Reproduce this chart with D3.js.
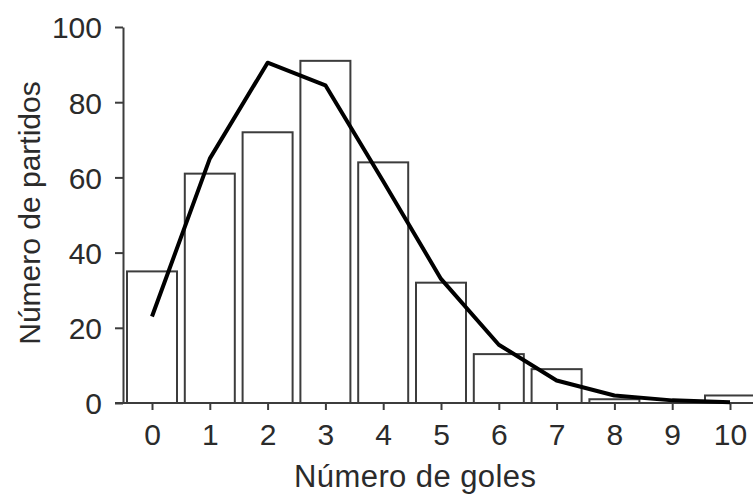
<!DOCTYPE html>
<html>
<head>
<meta charset="utf-8">
<script src="https://cdn.jsdelivr.net/npm/d3@7"></script>
<style>
  html, body { margin: 0; padding: 0; background: #fff; }
  svg { display: block; }
  text { font-family: "Liberation Sans", Arial, Helvetica, sans-serif; fill: #2b2b2b; }
</style>
</head>
<body>
<svg id="chart" width="753" height="495"></svg>
<script>
// Goals per match: observed counts (bars) and fitted distribution (line)
const goals = [0, 1, 2, 3, 4, 5, 6, 7, 8, 9, 10];
const observed = [35, 61, 72, 91, 64, 32, 13, 9, 1, 0, 2];
const expected = [23, 65, 90.5, 84.5, 59, 33, 15.5, 6, 2, 0.7, 0.2];
const yTicks = [0, 20, 40, 60, 80, 100];
const xTitle = "Número de goles";
const yTitle = "Número de partidos";

const svg = d3.select("#chart");

const x = d3.scaleLinear().domain([0, 10]).range([152, 730]);
const y = d3.scaleLinear().domain([0, 100]).range([403, 27]);
const barW = 50;
const axisColor = "#3c3c3c";

// Bars
svg.append("g")
  .selectAll("rect")
  .data(goals)
  .join("rect")
  .attr("x", (d) => x(d) - barW / 2)
  .attr("y", (d, i) => y(observed[i]))
  .attr("width", barW)
  .attr("height", (d, i) => y(0) - y(observed[i]))
  .attr("fill", "#fff")
  .attr("stroke", axisColor)
  .attr("stroke-width", 2);

// Y axis
const yAxis = svg.append("g")
  .attr("transform", `translate(123,0)`)
  .call(d3.axisLeft(y).tickValues(yTicks).tickSize(8).tickSizeOuter(0).tickPadding(13));
yAxis.select(".domain").attr("stroke", axisColor).attr("stroke-width", 2);
yAxis.selectAll(".tick line").attr("stroke", axisColor).attr("stroke-width", 2);
yAxis.selectAll(".tick text")
  .attr("font-size", 30)
  .attr("font-family", null)
  .attr("fill", null)
  .attr("dy", "0.36em");

// X axis
const xAxis = svg.append("g")
  .attr("transform", `translate(0,403)`)
  .call(d3.axisBottom(x).tickValues(goals).tickFormat(d3.format("d")).tickSize(7).tickSizeOuter(0).tickPadding(14));
xAxis.select(".domain").remove();
xAxis.append("line")
  .attr("x1", 115).attr("x2", 753)
  .attr("stroke", axisColor).attr("stroke-width", 2);
xAxis.selectAll(".tick line").attr("stroke", axisColor).attr("stroke-width", 2);
xAxis.selectAll(".tick text")
  .attr("font-size", 30)
  .attr("font-family", null)
  .attr("fill", null);

// Fitted line
const line = d3.line()
  .x((d, i) => x(goals[i]))
  .y((d) => y(d));
svg.append("path")
  .datum(expected)
  .attr("d", line)
  .attr("fill", "none")
  .attr("stroke", "#000")
  .attr("stroke-width", 4)
  .attr("stroke-linejoin", "round");

// Axis titles
svg.append("text")
  .attr("x", 415)
  .attr("y", 487)
  .attr("text-anchor", "middle")
  .attr("font-size", 31)
  .attr("textLength", 242)
  .attr("lengthAdjust", "spacing")
  .text(xTitle);

svg.append("text")
  .attr("transform", "translate(40,213) rotate(-90)")
  .attr("text-anchor", "middle")
  .attr("font-size", 30)
  .text(yTitle);
</script>
</body>
</html>
